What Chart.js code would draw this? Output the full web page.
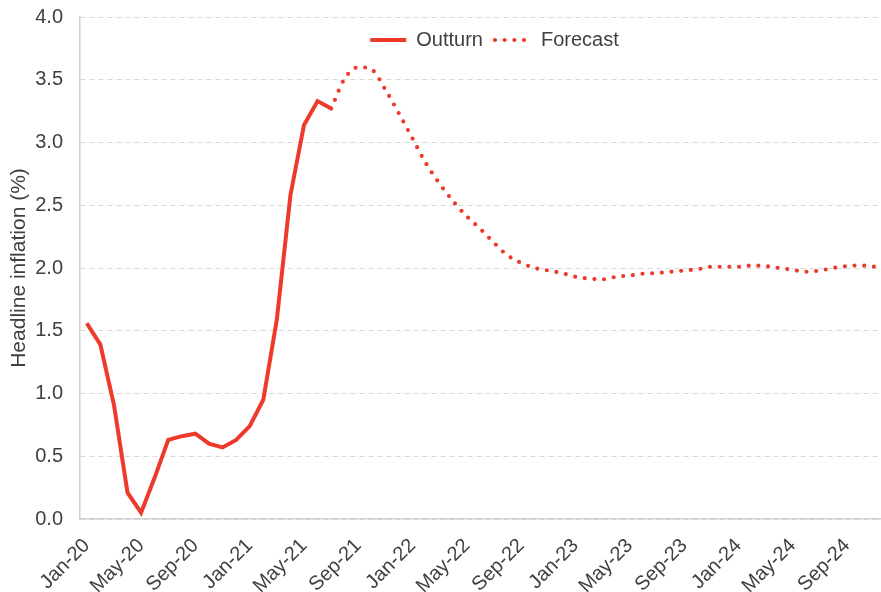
<!DOCTYPE html>
<html>
<head>
<meta charset="utf-8">
<script src="https://cdn.jsdelivr.net/npm/chart.js@4/dist/chart.umd.min.js"></script>
<style>
  html, body { margin: 0; padding: 0; background: #fff; }
  #wrap { width: 881px; height: 592px; }
</style>
</head>
<body>
<div id="wrap"><canvas id="myChart"></canvas></div>
<script>
// months Jan-20 .. Nov-24
const months = [
  "Jan-20","Feb-20","Mar-20","Apr-20","May-20","Jun-20","Jul-20","Aug-20","Sep-20","Oct-20","Nov-20","Dec-20",
  "Jan-21","Feb-21","Mar-21","Apr-21","May-21","Jun-21","Jul-21","Aug-21","Sep-21","Oct-21","Nov-21","Dec-21",
  "Jan-22","Feb-22","Mar-22","Apr-22","May-22","Jun-22","Jul-22","Aug-22","Sep-22","Oct-22","Nov-22","Dec-22",
  "Jan-23","Feb-23","Mar-23","Apr-23","May-23","Jun-23","Jul-23","Aug-23","Sep-23","Oct-23","Nov-23","Dec-23",
  "Jan-24","Feb-24","Mar-24","Apr-24","May-24","Jun-24","Jul-24","Aug-24","Sep-24","Oct-24","Nov-24"
]

// Jan-20 .. Jul-21
const outturn = [1.56, 1.39, 0.91, 0.21, 0.05, 0.33, 0.63, 0.66, 0.68, 0.60, 0.57, 0.63,
  0.74, 0.95, 1.59, 2.58, 3.14, 3.33, 3.27]

// Jul-21 .. Nov-24
const forecast = [3.27, 3.51, 3.60, 3.58, 3.42, 3.23,
  3.03, 2.83, 2.67, 2.53, 2.41, 2.31, 2.20, 2.10, 2.04, 2.00, 1.98, 1.96,
  1.93, 1.915, 1.91, 1.93, 1.94, 1.955, 1.96, 1.97, 1.98, 1.99, 2.01, 2.01,
  2.01, 2.02, 2.015, 2.00, 1.985, 1.97, 1.98, 2.00, 2.015, 2.02, 2.01]

const yTicks = [0, 0.5, 1.0, 1.5, 2.0, 2.5, 3.0, 3.5, 4.0]

const red = "#ee3a2b"
const textCol = "#404040"
const font = "'Liberation Sans', Arial, sans-serif"
const dotDash = [0, 9.7]

const outturnData = months.map((m, i) => i < outturn.length ? outturn[i] : null)
const fcStart = outturn.length - 1
const forecastData = months.map((m, i) => i >= fcStart ? forecast[i - fcStart] : null)

// legend sits inside the plot: it takes no height and is drawn unclipped, nudged into place
const legendInPlot = {
  id: 'legendInPlot',
  beforeUpdate(chart) {
    const lg = chart.legend
    if (!lg || lg._moved) return
    const fit = lg.fit
    lg.fit = function () { fit.call(this); this.height = 0 }
    lg.draw = function () {
      if (!this.options.display) return
      const c = this.ctx
      c.save()
      c.translate(54, 18 - this.top)
      this._draw()
      c.restore()
    }
    lg._moved = true
  }
}

var ctx = document.getElementById('myChart').getContext('2d')

var chart = new Chart(ctx, {
  type: 'line',
  data: {
    labels: months,
    datasets: [{
      label: "Outturn",
      data: outturnData,
      borderColor: red,
      backgroundColor: red,
      borderWidth: 4,
      pointRadius: 0,
      tension: 0
    }, {
      label: "Forecast",
      data: forecastData,
      borderColor: red,
      backgroundColor: red,
      borderWidth: 4.2,
      borderDash: dotDash,
      borderCapStyle: 'round',
      pointRadius: 0,
      cubicInterpolationMode: 'monotone'
    }]
  },
  plugins: [legendInPlot],
  options: {
    responsive: true,
    maintainAspectRatio: false,
    animation: false,
    layout: { padding: { top: 17, right: 0, left: 0, bottom: 0 } },
    plugins: {
      tooltip: { enabled: false },
      legend: {
        position: 'top',
        align: 'center',
        labels: {
          usePointStyle: true,
          pointStyleWidth: 36,
          boxHeight: 20,
          padding: 12,
          color: textCol,
          font: { family: font, size: 20 },
          generateLabels: ch => ch.data.datasets.map((ds, i) => ({
            text: ds.label,
            datasetIndex: i,
            pointStyle: 'line',
            fillStyle: red,
            strokeStyle: red,
            fontColor: textCol,
            lineWidth: i === 0 ? 4 : 4.2,
            lineDash: i === 0 ? [] : dotDash,
            lineCap: i === 0 ? 'butt' : 'round'
          }))
        }
      }
    },
    scales: {
      x: {
        type: 'category',
        offset: true,
        grid: { display: false, drawTicks: false },
        border: { display: true, color: "#d0d0d0", width: 1.5 },
        afterFit: s => { s.height = 73 },
        ticks: {
          autoSkip: false,
          minRotation: 45,
          maxRotation: 45,
          padding: 15,
          color: textCol,
          font: { family: font, size: 20 },
          callback: function (v, i) { return i % 4 === 0 ? months[i] : null }
        }
      },
      y: {
        min: 0,
        max: 4,
        afterBuildTicks: s => { s.ticks = yTicks.map(v => ({ value: v })) },
        afterFit: s => { s.width = 80; s.paddingTop = 0 },
        grid: { color: "#d9d9d9", lineWidth: 1, drawTicks: false },
        border: { display: true, color: "#d0d0d0", width: 1.5, dash: [5, 4] },
        title: {
          display: true,
          text: "Headline inflation (%)",
          color: textCol,
          font: { family: font, size: 21 },
          padding: { top: 7, bottom: 0 }
        },
        ticks: {
          padding: 17,
          color: textCol,
          font: { family: font, size: 20 },
          callback: v => v.toFixed(1)
        }
      }
    }
  }
})
</script>
</body>
</html>
